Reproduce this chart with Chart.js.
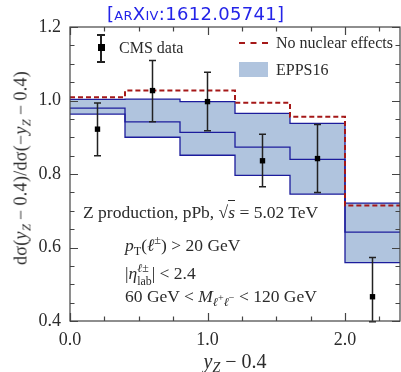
<!DOCTYPE html>
<html>
<head>
<meta charset="utf-8">
<script src="https://cdn.jsdelivr.net/npm/chart.js@4"></script>
<style>
  body { margin: 0; background: #fff; }
  #wrap { position: relative; width: 401px; height: 372px; overflow: hidden; font-family: "Liberation Serif", serif; color: #2b2b2b; }
  #wrap canvas { position: absolute; left: 0; top: 0; }
  .lbl { position: absolute; white-space: nowrap; font-size: 17.5px; line-height: 1; }
  .lbl sub { font-size: 0.7em; vertical-align: -0.3em; line-height: 0; }
  .leg { font-size: 16px; }
  .ss { display: inline-block; vertical-align: -0.5em; font-size: 0.68em; line-height: 1.05; }
  .ss span { display: block; }
  .ovl { border-top: 1px solid #2b2b2b; padding-top: 1px; }
  #arxiv { position: absolute; left: 107px; top: 3px; font-family: "DejaVu Sans", sans-serif; font-size: 18px; color: #2424e8; font-variant: small-caps; letter-spacing: 0.3px; }
  #ytitle { position: absolute; left: 21px; top: 168px; transform: translate(-50%, -50%) rotate(-90deg); white-space: nowrap; font-size: 18px; letter-spacing: 0.3px; }
  #ytitle sub, #xtitle sub { font-size: 0.7em; vertical-align: -0.3em; line-height: 0; }
  #xtitle { position: absolute; left: 235px; top: 361px; transform: translate(-50%, -50%); white-space: nowrap; font-size: 20px; }
</style>
</head>
<body>
<div id="wrap">
  <!-- canvas a bit wider than the page: Chart.js keeps ~4px free on the right -->
  <canvas id="ratioChart" width="404" height="372"></canvas>
  <div id="arxiv">[arXiv:1612.05741]</div>
  <div id="ytitle">dσ(<i>y</i><sub><i>Z</i></sub>&thinsp;−&thinsp;0.4)/dσ(−<i>y</i><sub><i>Z</i></sub>&thinsp;−&thinsp;0.4)</div>
  <div id="xtitle"><i>y</i><sub><i>Z</i></sub> − 0.4</div>

  <!-- legend -->
  <div style="position:absolute;left:100px;top:34px;width:1.5px;height:28px;background:#222"></div>
  <div style="position:absolute;left:97px;top:34px;width:8px;height:1.5px;background:#222"></div>
  <div style="position:absolute;left:97px;top:61px;width:8px;height:1.5px;background:#222"></div>
  <div style="position:absolute;left:97.5px;top:44px;width:7px;height:7px;background:#000"></div>
  <div class="lbl leg" style="left:119px;top:40px">CMS data</div>
  <div style="position:absolute;left:239px;top:42px;width:29px;border-top:2px dashed #a51818"></div>
  <div class="lbl leg" style="left:276px;top:35px">No nuclear effects</div>
  <div style="position:absolute;left:239px;top:62px;width:29px;height:15px;background:#b0c4de"></div>
  <div class="lbl leg" style="left:276px;top:62px">EPPS16</div>

  <!-- annotations -->
  <div class="lbl" style="left:83px;top:204px">Z production, pPb, √<span class="ovl"><i>s</i></span> = 5.02 TeV</div>
  <div class="lbl" style="left:125px;top:234px"><i>p</i><sub>T</sub>(<i>ℓ</i><sup style="font-size:0.7em">±</sup>) &gt; 20 GeV</div>
  <div class="lbl" style="left:125px;top:262px">|<i>η</i><span class="ss"><span><i>ℓ</i>±</span><span>lab</span></span>| &lt; 2.4</div>
  <div class="lbl" style="left:125px;top:288px">60 GeV &lt; <i>M</i><sub><i>ℓ</i><sup>+</sup><i>ℓ</i><sup>−</sup></sub> &lt; 120 GeV</div>
</div>

<script>
// bin edges in y_Z - 0.4
const binEdges = [0, 0.4, 0.8, 1.2, 1.6, 2.0, 2.4];

// curves, one value per bin
const noNuclear   = [1.009, 1.027, 1.027, 0.994, 0.956, 0.714];
const eppsUpper   = [1.003, 1.004, 0.997, 0.965, 0.938, 0.721];
const eppsCentral = [0.979, 0.942, 0.913, 0.873, 0.840, 0.642];
const eppsLower   = [0.963, 0.900, 0.851, 0.796, 0.745, 0.559];

// CMS data points
const cmsX    = [0.2, 0.6, 1.0, 1.4, 1.8, 2.2];
const cmsY    = [0.922, 1.027, 0.997, 0.836, 0.842, 0.466];
const cmsHigh = [0.993, 1.109, 1.077, 0.908, 0.935, 0.573];
const cmsLow  = [0.850, 0.942, 0.918, 0.765, 0.750, 0.398];

// axis ticks
const xTickVals = [0, 1, 2];
const yTickVals = [0.4, 0.6, 0.8, 1.0, 1.2];

const navy = '#1c1c9c';
const fillBlue = '#b0c4de';
const darkRed = '#a51818';

// step curve: each point holds its value to the next edge
function steps(vals) {
  return binEdges.map((x, i) => ({ x: x, y: vals[Math.min(i, vals.length - 1)] }));
}

function minorTicks(min, max, step) {
  const out = [];
  for (let v = min; v <= max + 1e-9; v += step) out.push(+v.toFixed(3));
  return out;
}

// error bars under the CMS markers
const errorBars = {
  id: 'errorBars',
  beforeDatasetDraw(chart, args) {
    if (chart.data.datasets[args.index].label !== 'CMS data') return;
    const { ctx, scales: { x, y } } = chart;
    ctx.save();
    ctx.strokeStyle = '#222';
    ctx.lineWidth = 1.5;
    cmsX.forEach((v, i) => {
      const px = x.getPixelForValue(v);
      const top = y.getPixelForValue(cmsHigh[i]);
      const bot = y.getPixelForValue(cmsLow[i]);
      ctx.beginPath();
      ctx.moveTo(px, top); ctx.lineTo(px, bot);
      ctx.moveTo(px - 3.5, top); ctx.lineTo(px + 3.5, top);
      ctx.moveTo(px - 3.5, bot); ctx.lineTo(px + 3.5, bot);
      ctx.stroke();
    });
    ctx.restore();
  }
};

// box frame with inward ticks on all sides
const frame = {
  id: 'frame',
  afterDatasetsDraw(chart) {
    const { ctx, chartArea: a, scales: { x, y } } = chart;
    ctx.save();
    ctx.strokeStyle = '#444';
    ctx.lineWidth = 1.2;
    ctx.strokeRect(a.left, a.top, a.width, a.height);
    ctx.beginPath();
    minorTicks(0, 2.4, 0.25).forEach(v => {
      const px = Math.round(x.getPixelForValue(v)) + 0.5;
      const len = xTickVals.includes(v) ? 8 : 4.5;
      ctx.moveTo(px, a.bottom); ctx.lineTo(px, a.bottom - len);
      ctx.moveTo(px, a.top); ctx.lineTo(px, a.top + len);
    });
    minorTicks(0.4, 1.2, 0.05).forEach(v => {
      const py = Math.round(y.getPixelForValue(v)) + 0.5;
      const len = yTickVals.some(t => Math.abs(t - v) < 1e-6) ? 8 : 4.5;
      ctx.moveTo(a.left, py); ctx.lineTo(a.left + len, py);
      ctx.moveTo(a.right, py); ctx.lineTo(a.right - len, py);
    });
    ctx.stroke();
    ctx.restore();
  }
};

const ctx = document.getElementById('ratioChart').getContext('2d');
new Chart(ctx, {
  type: 'line',
  data: {
    datasets: [
      {
        label: 'CMS data',
        type: 'scatter',
        data: cmsX.map((x, i) => ({ x: x, y: cmsY[i] })),
        pointStyle: 'rect',
        pointRadius: 3.8,
        backgroundColor: '#000',
        borderColor: '#000',
        borderWidth: 0,
        order: 0,
        clip: false
      },
      {
        label: 'No nuclear effects',
        data: steps(noNuclear),
        stepped: true,
        borderColor: darkRed,
        borderWidth: 2,
        borderDash: [5, 3],
        pointRadius: 0,
        fill: false,
        order: 1
      },
      {
        label: 'EPPS16 central',
        data: steps(eppsCentral),
        stepped: true,
        borderColor: navy,
        borderWidth: 1.3,
        pointRadius: 0,
        fill: false,
        order: 2
      },
      {
        label: 'EPPS16',
        data: steps(eppsUpper),
        stepped: true,
        borderColor: navy,
        borderWidth: 1.3,
        pointRadius: 0,
        backgroundColor: fillBlue,
        fill: '+1',
        order: 3
      },
      {
        label: 'EPPS16 lower',
        data: steps(eppsLower),
        stepped: true,
        borderColor: navy,
        borderWidth: 1.3,
        pointRadius: 0,
        fill: false,
        order: 2
      }
    ]
  },
  options: {
    responsive: false,
    animation: false,
    layout: { padding: { top: 27, right: 0, left: 0, bottom: 0 } },
    plugins: { legend: { display: false }, tooltip: { enabled: false } },
    scales: {
      x: {
        type: 'linear',
        min: 0,
        max: 2.4,
        grid: { display: false, drawTicks: false },
        border: { display: false },
        afterBuildTicks: s => { s.ticks = xTickVals.map(v => ({ value: v })); },
        afterFit: s => { s.height = 51; },
        ticks: {
          padding: 8,
          color: '#2b2b2b',
          font: { family: 'Liberation Serif', size: 18 },
          callback: v => v.toFixed(1)
        }
      },
      y: {
        min: 0.4,
        max: 1.2,
        grid: { display: false, drawTicks: false },
        border: { display: false },
        afterBuildTicks: s => { s.ticks = yTickVals.map(v => ({ value: v })); },
        afterFit: s => { s.width = 70; },
        ticks: {
          padding: 9,
          color: '#2b2b2b',
          font: { family: 'Liberation Serif', size: 18 },
          callback: v => v.toFixed(1)
        }
      }
    }
  },
  plugins: [errorBars, frame]
});
</script>
</body>
</html>
